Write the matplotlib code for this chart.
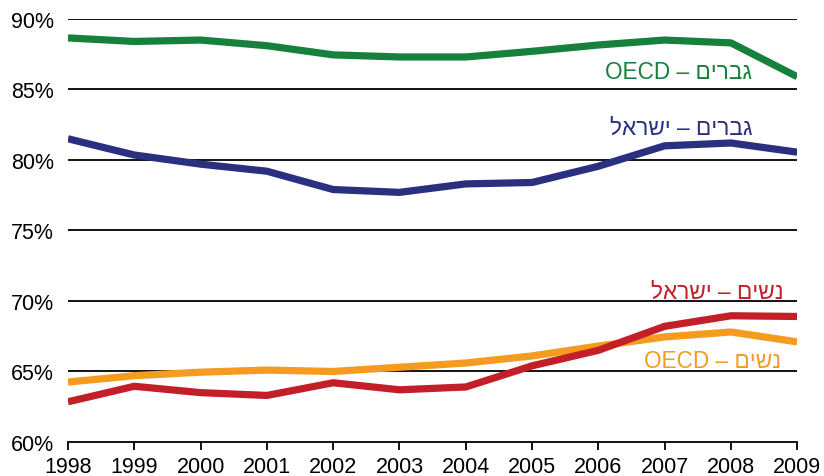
import matplotlib.pyplot as plt
from matplotlib.ticker import FuncFormatter

plt.rcParams['font.family'] = ['Liberation Sans', 'DejaVu Sans']

# Years on the x axis
years = [1998, 1999, 2000, 2001, 2002, 2003, 2004, 2005, 2006, 2007, 2008, 2009]

# Employment rates (%)
men_oecd = [88.65, 88.4, 88.5, 88.1, 87.45, 87.3, 87.3, 87.7, 88.15, 88.5, 88.3, 85.9]
men_israel = [81.5, 80.35, 79.7, 79.2, 77.9, 77.7, 78.3, 78.4, 79.55, 81.0, 81.2, 80.55]
women_oecd = [64.25, 64.7, 64.95, 65.1, 65.0, 65.3, 65.6, 66.1, 66.8, 67.45, 67.8, 67.1]
women_israel = [62.85, 63.95, 63.5, 63.3, 64.2, 63.7, 63.9, 65.4, 66.5, 68.2, 68.95, 68.9]

# Hebrew labels, written in visual (left-to-right) order because matplotlib has no bidi
label_men_oecd = 'OECD – םירבג'
label_men_israel = 'לארשי – םירבג'
label_women_israel = 'לארשי – םישנ'
label_women_oecd = 'OECD – םישנ'

y_ticks = [60, 65, 70, 75, 80, 85, 90]

fig = plt.figure(figsize=(8.24, 4.77), dpi=100)
ax = fig.add_axes([0.0825, 0.0713, 0.885, 0.887])

# Horizontal grid lines
for y in y_ticks[1:]:
    ax.axhline(y, color='black', linewidth=1.3, zorder=1)

ax.plot(years, men_oecd, color='#17803d', linewidth=5.2, solid_capstyle='butt', zorder=3)
ax.plot(years, men_israel, color='#2b2f80', linewidth=5.2, solid_capstyle='butt', zorder=3)
ax.plot(years, women_oecd, color='#f49b20', linewidth=5.2, solid_capstyle='butt', zorder=3)
ax.plot(years, women_israel, color='#c21f28', linewidth=5.2, solid_capstyle='butt', zorder=4)

ax.text(2008.32, 86.3, label_men_oecd, color='#17803d', fontsize=16.3, ha='right', va='center')
ax.text(2008.32, 82.35, label_men_israel, color='#2b2f80', fontsize=16.3, ha='right', va='center')
ax.text(2008.8, 70.7, label_women_israel, color='#c21f28', fontsize=16.3, ha='right', va='center')
ax.text(2008.76, 65.8, label_women_oecd, color='#f49b20', fontsize=16.3, ha='right', va='center')

ax.set_xlim(1998, 2009)
ax.set_ylim(60, 90)
ax.set_xticks(years)
ax.set_yticks(y_ticks)
ax.yaxis.set_major_formatter(FuncFormatter(lambda v, p: '%d%%' % v))

for side in ['left', 'right', 'top']:
    ax.spines[side].set_visible(False)
ax.spines['bottom'].set_linewidth(1.3)
ax.tick_params(axis='x', direction='out', length=6, width=1.3, labelsize=15.5, pad=4)
ax.tick_params(axis='y', length=0, labelsize=15.5, pad=10)

fig.savefig('out.png', dpi=100)
